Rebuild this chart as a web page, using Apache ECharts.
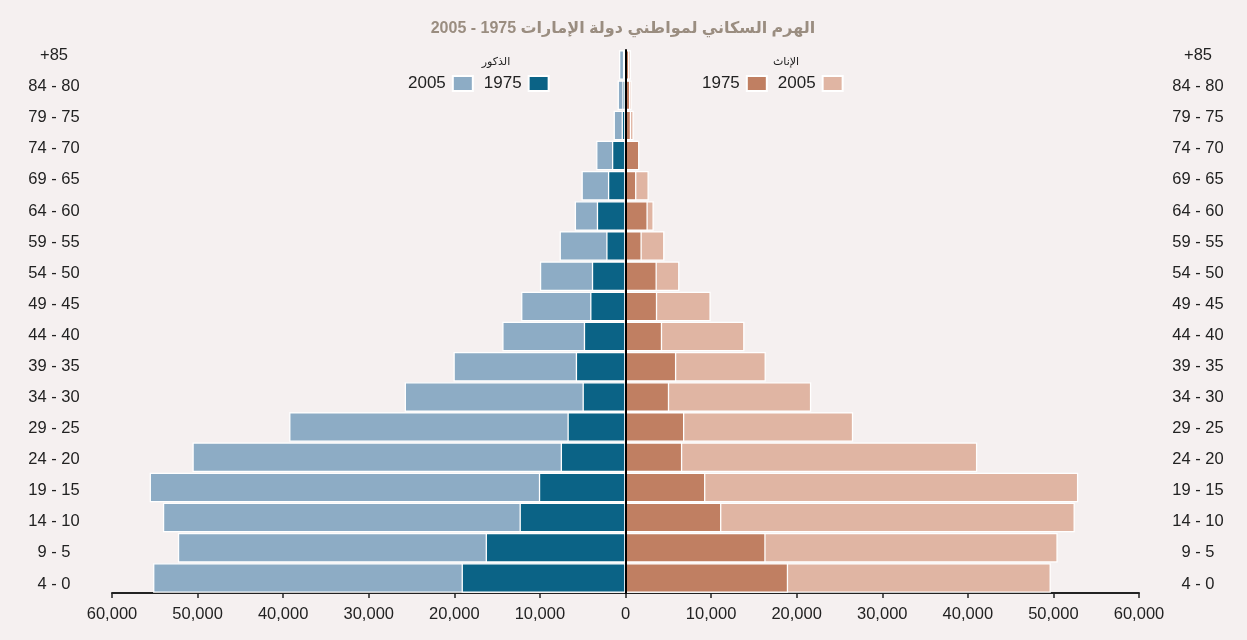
<!DOCTYPE html>
<html>
	<head>
		<meta charset="utf-8">
		<title>الهرم السكاني</title>
		<style>
			html,body{margin:0;padding:0;background:#f5f0f0;}
			#main{width:1247px;height:640px;}
		</style>
	</head>
	<body>
		<div id="main"></div>
		<script src="https://cdn.jsdelivr.net/npm/echarts@6/dist/echarts.min.js"></script>
		<script>
			// الفئات العمرية من الأسفل إلى الأعلى
			var ageGroups=['4 - 0','9 - 5','14 - 10','19 - 15','24 - 20','29 - 25','34 - 30','39 - 35','44 - 40','49 - 45','54 - 50','59 - 55','64 - 60','69 - 65','74 - 70','79 - 75','84 - 80','+85']
			var male2005=[55200,52300,54050,55600,50600,39300,25800,20100,14400,12200,10000,7700,5930,5140,3430,1390,920,760]
			var male1975=[19150,16340,12380,10120,7570,6780,5020,5810,4870,4130,3930,2250,3350,2050,1580,450,370,300]
			var female1975=[19000,16370,11200,9330,6630,6870,5100,5930,4280,3700,3660,1900,2600,1270,1620,650,560,450]
			var female2005=[49700,50500,52500,52900,41100,26600,21700,16400,13900,9960,6300,4550,3300,2720,1500,960,730,650]

			var font='"Liberation Sans", Arial, "DejaVu Sans", sans-serif'
			var txt='#222'

			var mychart=echarts.init(document.getElementById("main"))

			function bar(name,data,color){
				return {
					name:name,
					type:'bar',
					xAxisIndex:0,
					yAxisIndex:0,
					data:data,
					barGap:'-100%',
					barCategoryGap:'2%',
					itemStyle:{color:color,borderColor:'#fff',borderWidth:1.3},
					emphasis:{disabled:true}
				}
			}

			// الأسطورة: النص ثم المربع
			function legend(names,left){
				return {data:names,left:left,top:75,padding:0,align:'right',
					itemWidth:20,itemHeight:15,itemGap:10,icon:'rect',
					formatter:function(n){return n.replace(/\D/g,'')},
					textStyle:{fontFamily:font,fontSize:17,color:txt,padding:[0,2,0,0]}}
			}

			var option={
				backgroundColor:'#f5f0f0',
				animation:false,
				title:[
					{text:'الهرم السكاني لمواطني دولة الإمارات 1975 - 2005',left:618,top:16,textAlign:'center',
						textStyle:{fontFamily:font,fontSize:16,fontWeight:'bold',color:'#9a8d80'}},
					{text:'الذكور',left:491,top:51,textAlign:'center',
						textStyle:{fontFamily:font,fontSize:11,fontWeight:'normal',color:txt}},
					{text:'الإناث',left:781,top:51,textAlign:'center',
						textStyle:{fontFamily:font,fontSize:11,fontWeight:'normal',color:txt}}
				],
				legend:[
					legend(['ذكور 2005','ذكور 1975'],408),
					legend(['إناث 1975','إناث 2005'],702)
				],
				grid:[
					{left:112,right:108,top:50,bottom:47},
					{left:112,right:108,top:40,bottom:40.5}
				],
				xAxis:[
					{type:'value',gridIndex:0,min:-60000,max:60000,interval:10000,
						axisLine:{show:true,onZero:false,lineStyle:{color:'#222',width:2}},
						axisTick:{show:true,length:5,lineStyle:{color:'#222',width:1.5}},
						splitLine:{show:false},
						axisLabel:{margin:13,fontFamily:font,fontSize:16.5,color:txt,
							formatter:function(v){return Math.abs(v).toLocaleString('en-US')}}},
					{type:'value',gridIndex:1,show:false,min:0,max:1}
				],
				yAxis:[
					{type:'category',gridIndex:0,data:ageGroups,z:5,
						axisLine:{show:true,onZero:true,lineStyle:{color:'#000',width:2}},
						axisTick:{show:false},axisLabel:{show:false}},
					{type:'category',gridIndex:1,data:ageGroups,position:'left',
						axisLine:{show:false,onZero:false},axisTick:{show:false},
						axisLabel:{align:'center',margin:58,fontFamily:font,fontSize:16.5,color:txt}},
					{type:'category',gridIndex:1,data:ageGroups,position:'right',
						axisLine:{show:false,onZero:false},axisTick:{show:false},
						axisLabel:{align:'center',margin:59,fontFamily:font,fontSize:16.5,color:txt}}
				],
				series:[
					bar('ذكور 2005',male2005.map(v=>-v),'#8dacc5'),
					bar('إناث 2005',female2005,'#e0b5a3'),
					bar('ذكور 1975',male1975.map(v=>-v),'#0b6386'),
					bar('إناث 1975',female1975,'#c07f62')
				]
			};
			mychart.setOption(option);
		</script>
	</body>
</html>
